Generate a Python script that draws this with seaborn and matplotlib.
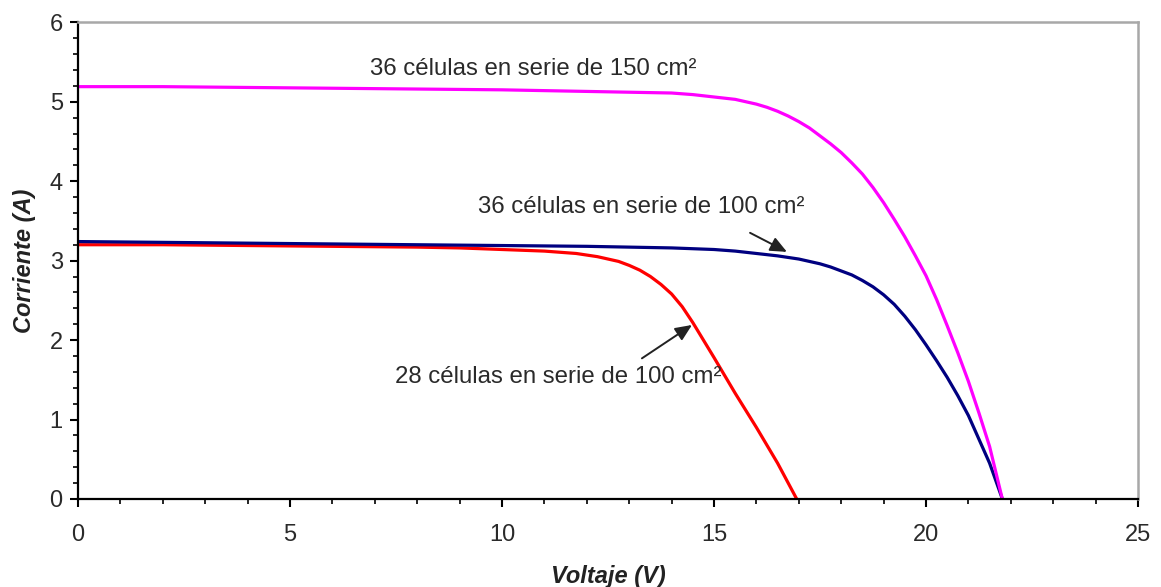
import matplotlib
matplotlib.use("Agg")
import matplotlib.pyplot as plt
import seaborn as sns
import pandas as pd
from matplotlib.ticker import MultipleLocator

# I-V curves of PV modules (voltage in V, current in A)
v_28_100 = [0, 2, 4, 6, 8, 9, 10, 10.5, 11, 11.5, 11.75, 12, 12.25, 12.5, 12.75, 13, 13.25,
            13.5, 13.75, 14, 14.25, 14.5, 14.75, 15, 15.5, 16, 16.5, 16.95]
i_28_100 = [3.20, 3.20, 3.19, 3.18, 3.17, 3.16, 3.14, 3.13, 3.12, 3.10, 3.09, 3.07, 3.05, 3.02, 2.99, 2.94, 2.88,
            2.80, 2.70, 2.58, 2.42, 2.22, 2.00, 1.78, 1.33, 0.90, 0.45, 0.0]

v_36_100 = [0, 2, 4, 6, 8, 10, 12, 13, 14, 15, 15.5, 16, 16.5, 16.75, 17, 17.25, 17.5, 17.75, 18, 18.25,
            18.5, 18.75, 19, 19.25, 19.5, 19.75, 20, 20.25, 20.5, 20.75, 21, 21.5, 21.8]
i_36_100 = [3.24, 3.23, 3.22, 3.21, 3.20, 3.19, 3.18, 3.17, 3.16, 3.14, 3.12, 3.09, 3.06, 3.04, 3.02, 2.99, 2.96, 2.92, 2.87, 2.82,
            2.75, 2.67, 2.57, 2.45, 2.30, 2.13, 1.94, 1.74, 1.53, 1.30, 1.05, 0.45, 0.0]

v_36_150 = [0, 2, 4, 6, 8, 10, 12, 13, 14, 14.5, 15, 15.5, 16, 16.25, 16.5, 16.75, 17, 17.25, 17.5, 17.75,
            18, 18.25, 18.5, 18.75, 19, 19.25, 19.5, 19.75, 20, 20.25, 20.5, 20.75, 21, 21.25, 21.5, 21.8]
i_36_150 = [5.19, 5.19, 5.18, 5.17, 5.16, 5.15, 5.13, 5.12, 5.11, 5.09, 5.06, 5.03, 4.97, 4.93, 4.88, 4.82, 4.75, 4.67, 4.57, 4.47,
            4.36, 4.23, 4.09, 3.92, 3.73, 3.52, 3.30, 3.06, 2.81, 2.51, 2.18, 1.84, 1.48, 1.08, 0.66, 0.0]

series_names = ["28 células en serie de 100 cm²",
                "36 células en serie de 100 cm²",
                "36 células en serie de 150 cm²"]
series_colors = ["#ff0000", "#000080", "#ff00ff"]

df = pd.concat([
    pd.DataFrame({"V": v_28_100, "I": i_28_100, "serie": series_names[0]}),
    pd.DataFrame({"V": v_36_100, "I": i_36_100, "serie": series_names[1]}),
    pd.DataFrame({"V": v_36_150, "I": i_36_150, "serie": series_names[2]}),
], ignore_index=True)

sns.set_style("ticks")
plt.rcParams["font.family"] = ["Liberation Sans", "DejaVu Sans"]

fig = plt.figure(figsize=(11.61, 5.87), dpi=100)
ax = fig.add_axes([0.0672, 0.150, 0.913, 0.812])

sns.lineplot(data=df, x="V", y="I", hue="serie", hue_order=series_names,
             palette=series_colors, linewidth=2.3, sort=False,
             estimator=None, legend=False, ax=ax)
for line in ax.get_lines():
    line.set_solid_joinstyle("round")

ax.set_xlim(0, 25)
ax.set_ylim(0, 6)
ax.xaxis.set_major_locator(MultipleLocator(5))
ax.xaxis.set_minor_locator(MultipleLocator(1))
ax.yaxis.set_major_locator(MultipleLocator(1))
ax.yaxis.set_minor_locator(MultipleLocator(0.2))

ax.tick_params(which="major", direction="out", length=6, width=1.5,
               color="black", labelsize=17, labelcolor="#2a2a2a")
ax.tick_params(axis="x", which="major", pad=12)
ax.tick_params(axis="y", which="major", pad=5)
ax.tick_params(which="minor", direction="out", length=3.5, width=1.2, color="black")

for side in ("left", "bottom"):
    ax.spines[side].set_color("black")
    ax.spines[side].set_linewidth(1.6)
for side in ("top", "right"):
    ax.spines[side].set_visible(True)
    ax.spines[side].set_color("#a8a8a8")
    ax.spines[side].set_linewidth(1.8)

ax.set_xlabel("Voltaje (V)", fontsize=17, fontweight="bold", fontstyle="italic",
              labelpad=14, color="#222222")
ax.set_ylabel("Corriente (A)", fontsize=17, fontweight="bold", fontstyle="italic",
              labelpad=10, color="#222222")

txt_kw = dict(fontsize=17.3, color="#2a2a2a", ha="center", va="center")
ax.text(10.74, 5.41, series_names[2], **txt_kw)
ax.text(13.28, 3.67, series_names[1], **txt_kw)
ax.text(11.32, 1.53, series_names[0], **txt_kw)

arrow_kw = dict(arrowstyle="-|>,head_length=0.5,head_width=0.22",
                color="#222222", lw=1.4, mutation_scale=20,
                shrinkA=0, shrinkB=0)
ax.annotate("", xy=(16.72, 3.11), xytext=(15.85, 3.35), arrowprops=arrow_kw)
ax.annotate("", xy=(14.48, 2.19), xytext=(13.3, 1.77), arrowprops=arrow_kw)

fig.savefig("out.png", dpi=100, facecolor="white")
